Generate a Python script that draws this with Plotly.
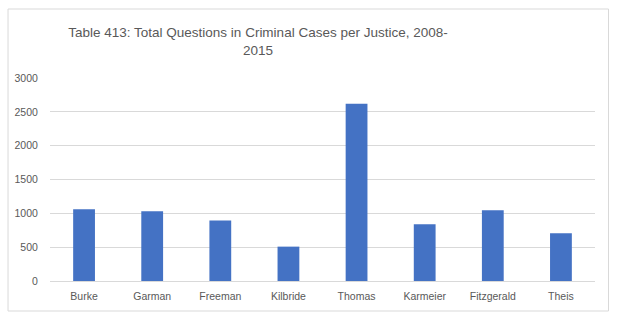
import plotly.graph_objects as go

justices = ["Burke", "Garman", "Freeman", "Kilbride", "Thomas", "Karmeier", "Fitzgerald", "Theis"]
questions = [1061, 1032, 893, 508, 2620, 839, 1046, 706]
y_ticks = [0, 500, 1000, 1500, 2000, 2500, 3000]

W, H = 620, 320
L, R, T, B = 50, 24.5, 78, 39
pw, ph = W - L - R, H - T - B

def px_x(x):
    return (x - L) / pw

def px_y(y):
    return (H - B - y) / ph

fig = go.Figure(go.Bar(x=justices, y=questions, marker_color="#4472C4", marker_line_width=0))

font = "Liberation Sans, Arial, sans-serif"
fig.update_layout(
    width=W, height=H,
    margin=dict(l=L, r=R, t=T, b=B),
    paper_bgcolor="white", plot_bgcolor="white",
    bargap=0.68,
    showlegend=False,
    font=dict(family=font, color="#595959", size=10.5),
    title=dict(
        text="Table 413: Total Questions in Criminal Cases per Justice, 2008-<br>2015",
        x=258 / W, xref="container", xanchor="center",
        y=1 - 37 / H, yref="container", yanchor="middle",
        font=dict(family=font, size=13.5, color="#595959"),
    ),
    xaxis=dict(showgrid=False, showline=True, linecolor="#d9d9d9", linewidth=1,
               ticks="outside", ticklen=5, tickcolor="rgba(0,0,0,0)",
               tickfont=dict(size=10.5, color="#595959")),
    yaxis=dict(range=[0, 3000], tickvals=y_ticks, showgrid=True, gridcolor="#d9d9d9",
               gridwidth=1, zeroline=False, showline=False,
               ticks="outside", ticklen=9, tickcolor="rgba(0,0,0,0)",
               tickfont=dict(size=10.5, color="#595959")),
    shapes=[dict(type="rect", xref="paper", yref="paper",
                 x0=px_x(8), x1=px_x(609), y0=px_y(311), y1=px_y(9),
                 line=dict(color="#d9d9d9", width=1), fillcolor="rgba(0,0,0,0)", layer="below")],
)

fig.write_html("out.html")
